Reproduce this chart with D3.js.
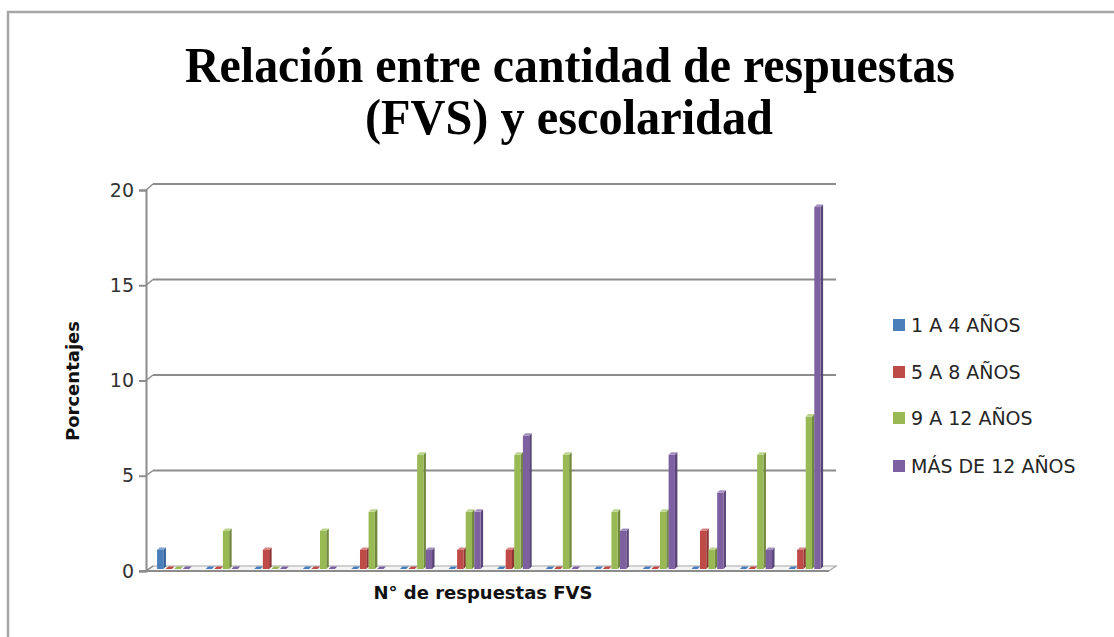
<!DOCTYPE html>
<html>
<head>
<meta charset="utf-8">
<script src="https://cdn.jsdelivr.net/npm/d3@7"></script>
<style>
  body{margin:0;background:#fff;}
  svg{display:block;}
</style>
</head>
<body>
<div id="plot"></div>
<script>
// datos
var categorias = ['1','2','3','4','5','6','7','8','9','10','11','12','13','14'];
var series = ['1 A 4 AÑOS','5 A 8 AÑOS','9 A 12 AÑOS','MÁS DE 12 AÑOS'];
var uno_a_cuatro   = [1,0,0,0,0,0,0,0,0,0,0,0,0,0];
var cinco_a_ocho   = [0,0,1,0,1,0,1,1,0,0,0,2,0,1];
var nueve_a_doce   = [0,2,0,2,3,6,3,6,6,3,3,1,6,8];
var mas_de_doce    = [0,0,0,0,0,1,3,7,0,2,6,4,1,19];
var yTicks = [0,5,10,15,20];

var valores = [uno_a_cuatro, cinco_a_ocho, nueve_a_doce, mas_de_doce];
var colFront = ['#4a7ebb','#be4b48','#98b954','#7d60a0'];
var colSide  = ['#2f5e96','#8e3533','#71893f','#5a4577'];
var colTop   = ['#7ea3d3','#d88482','#bcd48d','#a48fc0'];

var W = 1114, H = 637;
var svg = d3.select('#plot').append('svg').attr('width',W).attr('height',H);

// borde del area del grafico
svg.append('rect').attr('x',8).attr('y',12).attr('width',1130).attr('height',660)
  .attr('fill','#fff').attr('stroke','#a6a6a6').attr('stroke-width',2.5);

// titulo
var title = [
  {t:'Relación entre cantidad de respuestas', y:82, x0:185, x1:955},
  {t:'(FVS) y escolaridad', y:134, x0:365, x1:773}
];
svg.selectAll('.title').data(title).enter().append('text')
  .attr('class','title')
  .attr('x',function(d){return d.x0})
  .attr('y',function(d){return d.y})
  .attr('textLength',function(d){return d.x1-d.x0})
  .attr('lengthAdjust','spacingAndGlyphs')
  .style('font-family','"Liberation Serif", "Times New Roman", serif')
  .style('font-weight','bold')
  .style('font-size','50px')
  .attr('fill','#000')
  .text(function(d){return d.t});

// escalas (frente, fondo y barras a media profundidad)
var yFront = d3.scaleLinear().domain([0,20]).range([571,190]);
var yBack  = d3.scaleLinear().domain([0,20]).range([566,184]);
var yBar   = d3.scaleLinear().domain([0,20]).range([569,188]);
var xFront0 = 146, xBack0 = 153, xFront1 = 829, xBack1 = 836;

var x0 = d3.scaleBand().domain(categorias).range([150,830]).paddingInner(0).paddingOuter(0);
var slot = 8.6, face = 6.3, dep = 2.5;

// piso
svg.append('path')
  .attr('d','M'+xFront0+','+yFront(0)+'L'+xFront1+','+yFront(0)+'L'+xBack1+','+yBack(0)+'L'+xBack0+','+yBack(0)+'Z')
  .attr('fill','#f4f4f4').attr('stroke','#a6a6a6').attr('stroke-width',1.2);

// lineas de division
var grid = svg.append('g').attr('class','grid');
yTicks.forEach(function(t){
  if(t>0){
    grid.append('line').attr('x1',xBack0).attr('x2',xBack1).attr('y1',yBack(t)).attr('y2',yBack(t))
      .attr('stroke','#8c8c8c').attr('stroke-width',2);
  }
  grid.append('line').attr('x1',xFront0).attr('x2',xBack0).attr('y1',yFront(t)).attr('y2',yBack(t))
    .attr('stroke','#8c8c8c').attr('stroke-width',1.5);
});

// eje y
var yAxis = d3.axisLeft(yFront).tickValues(yTicks).tickSize(7).tickPadding(5);
var ga = svg.append('g').attr('transform','translate('+xFront0+',0)').call(yAxis);
ga.select('.domain').attr('stroke','#8c8c8c').attr('stroke-width',2);
ga.selectAll('.tick line').attr('stroke','#8c8c8c').attr('stroke-width',2);
ga.selectAll('.tick text')
  .style('font-family','"DejaVu Sans", sans-serif')
  .style('font-size','19px').attr('fill','#333');

// linea frontal del piso
svg.append('line').attr('x1',139).attr('x2',xFront1).attr('y1',yFront(0)).attr('y2',yFront(0))
  .attr('stroke','#8c8c8c').attr('stroke-width',2);

// barras
var barData = [];
categorias.forEach(function(c,i){
  valores.forEach(function(s,j){
    barData.push({cat:c, serie:j, v:s[i]});
  });
});

var bars = svg.selectAll('.bar').data(barData).enter().append('g').attr('class','bar');
function bx(d){ return x0(d.cat) + (x0.bandwidth()-slot*4)/2 + d.serie*slot; }

bars.append('path') // lado
  .attr('d',function(d){
    var x = bx(d)+face, y1 = yBar(d.v), y0 = yBar(0);
    return 'M'+x+','+y0+'L'+x+','+y1+'L'+(x+dep)+','+(y1-dep)+'L'+(x+dep)+','+(y0-dep)+'Z';
  })
  .attr('fill',function(d){return colSide[d.serie]});
bars.append('rect') // frente
  .attr('x',bx)
  .attr('y',function(d){return yBar(d.v)})
  .attr('width',face)
  .attr('height',function(d){return yBar(0)-yBar(d.v)})
  .attr('fill',function(d){return colFront[d.serie]});
bars.append('path') // tapa
  .attr('d',function(d){
    var x = bx(d), y = yBar(d.v);
    return 'M'+x+','+y+'L'+(x+face)+','+y+'L'+(x+face+dep)+','+(y-dep)+'L'+(x+dep)+','+(y-dep)+'Z';
  })
  .attr('fill',function(d){return d.v==0 ? colFront[d.serie] : colTop[d.serie]});

// titulos de ejes
svg.append('text')
  .attr('transform','translate(79,381) rotate(-90)')
  .attr('text-anchor','middle')
  .style('font-family','"DejaVu Sans", sans-serif')
  .style('font-weight','bold').style('font-size','18px')
  .attr('fill','#111')
  .text('Porcentajes');

svg.append('text')
  .attr('x',483).attr('y',599)
  .attr('text-anchor','middle')
  .style('font-family','"DejaVu Sans", sans-serif')
  .style('font-weight','bold').style('font-size','18px')
  .attr('fill','#111')
  .text('N° de respuestas FVS');

// leyenda
var legY = [325,372,418,466];
var leg = svg.selectAll('.leg').data(series).enter().append('g')
  .attr('class','leg')
  .attr('transform',function(d,i){return 'translate(893,'+legY[i]+')'});
leg.append('rect').attr('x',0).attr('y',-6).attr('width',12).attr('height',12)
  .attr('fill',function(d,i){return colFront[i]});
leg.append('text').attr('x',18).attr('y',7)
  .style('font-family','"DejaVu Sans", sans-serif')
  .style('font-size','19px').attr('fill','#262626')
  .text(function(d){return d});
</script>
</body>
</html>
